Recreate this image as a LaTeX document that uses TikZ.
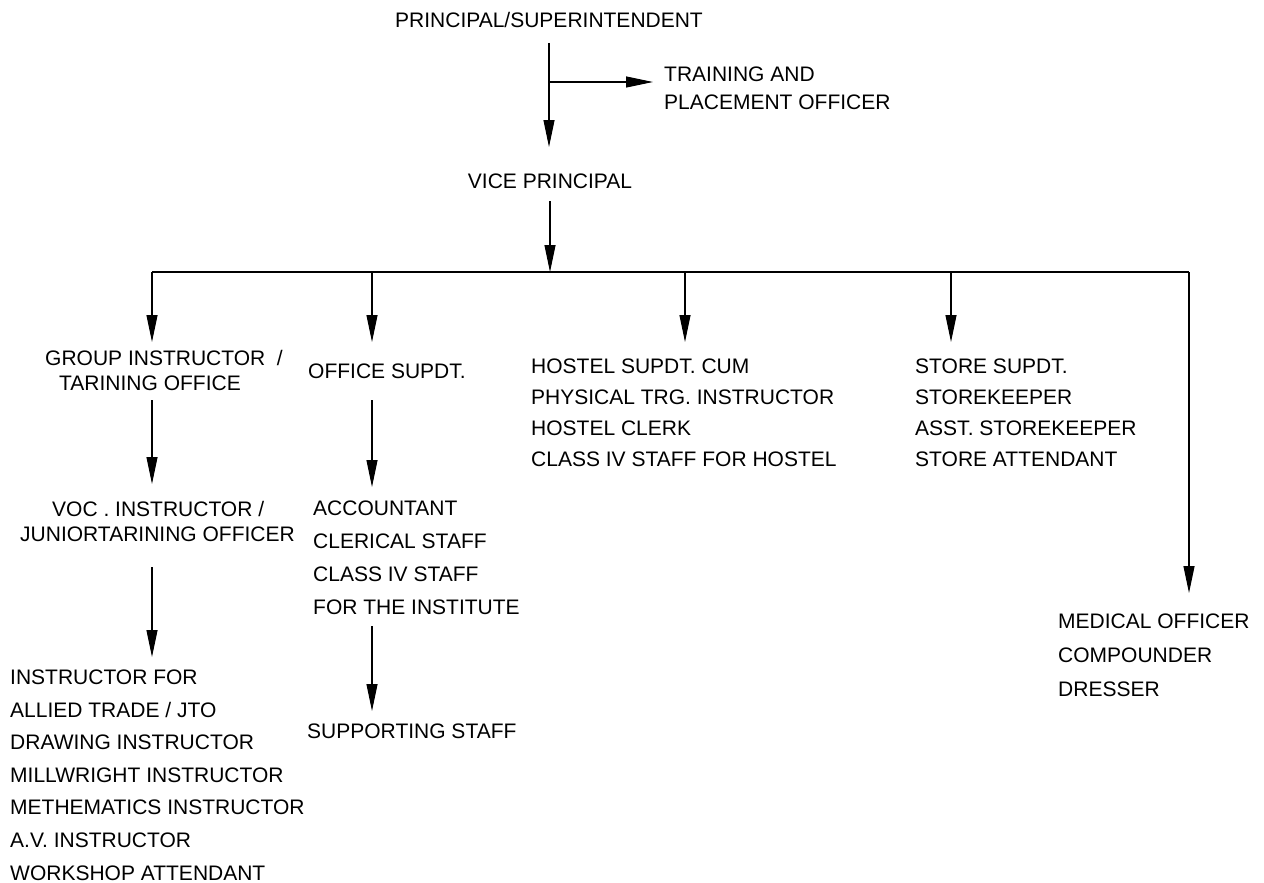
\documentclass[tikz,border=0pt]{standalone}
\usepackage{fontspec}
\setmainfont{Liberation Sans}
\usetikzlibrary{arrows.meta}
\begin{document}
\begin{tikzpicture}[x=1pt,y=-1pt,
  txt/.style={inner sep=0pt, anchor=base west, align=left, font=\fontsize{21}{33}\selectfont},
  two/.style={font=\fontsize{21}{25}\selectfont},
  conn/.style={line width=1.1pt},
  arr/.style={conn, -{Triangle[length=27pt,width=11pt]}}]
\useasboundingbox (0,0) rectangle (1264,883);
\fill[white] (0,0) rectangle (1264,883);

% texts (base anchor of a multi-line node = baseline of its last line)
\node[txt, anchor=base] (prin) at (549,28) {PRINCIPAL/SUPERINTENDENT};
\node[txt, font=\fontsize{21}{28}\selectfont] (train) at (664,109.5) {TRAINING AND\\PLACEMENT OFFICER};
\node[txt, anchor=base] (vp) at (550,188) {VICE PRINCIPAL};
\node[txt, two] (gi) at (45,390.5) {GROUP INSTRUCTOR\ \ /\\\hspace*{14pt}TARINING OFFICE};
\node[txt] (os) at (308,378) {OFFICE SUPDT.};
\node[txt, two] (voc) at (20,541.5) {\hspace*{32pt}VOC . INSTRUCTOR /\\JUNIORTARINING OFFICER};
\node[txt] (acc) at (313,614.5) {ACCOUNTANT\\CLERICAL STAFF\\CLASS IV STAFF\\FOR THE INSTITUTE};
\node[txt] (sup) at (307,738) {SUPPORTING STAFF};
\node[txt, font=\fontsize{21}{32.6}\selectfont] (ins) at (10,880) {INSTRUCTOR FOR\\ALLIED TRADE / JTO\\DRAWING INSTRUCTOR\\MILLWRIGHT INSTRUCTOR\\METHEMATICS INSTRUCTOR\\A.V. INSTRUCTOR\\WORKSHOP ATTENDANT};
\node[txt, font=\fontsize{21}{31}\selectfont] (hos) at (531,466.5) {HOSTEL SUPDT. CUM\\PHYSICAL TRG. INSTRUCTOR\\HOSTEL CLERK\\CLASS IV STAFF FOR HOSTEL};
\node[txt, font=\fontsize{21}{31}\selectfont] (sto) at (915,466.5) {STORE SUPDT.\\STOREKEEPER\\ASST. STOREKEEPER\\STORE ATTENDANT};
\node[txt, font=\fontsize{21}{34}\selectfont] (med) at (1058,696.5) {MEDICAL OFFICER\\COMPOUNDER\\DRESSER};

% connector points
\coordinate (prinOut) at (549,43);
\coordinate (vpIn) at (549,147);
\coordinate (tpJ) at (549,82);
\coordinate (tpIn) at (653,82);
\coordinate (vpOut) at (550,201);
\coordinate (busV) at (550,272);
\coordinate (busL) at (152,272);
\coordinate (busOS) at (372,272);
\coordinate (busH) at (685,272);
\coordinate (busS) at (951,272);
\coordinate (busR) at (1189,272);
\coordinate (giIn) at (152,342);
\coordinate (osIn) at (372,342);
\coordinate (hosIn) at (685,342);
\coordinate (stoIn) at (951,342);
\coordinate (medIn) at (1189,593);
\coordinate (giOut) at (152,400);
\coordinate (vocIn) at (152,484);
\coordinate (vocOut) at (152,567);
\coordinate (insIn) at (152,657);
\coordinate (osOut) at (372,400);
\coordinate (accIn) at (372,487);
\coordinate (accOut) at (372,626);
\coordinate (supIn) at (372,711);

% connectors
\draw[arr] (prinOut) -- (vpIn);
\draw[arr] (tpJ) -- (tpIn);
\draw[arr] (vpOut) -- (busV);
\draw[conn] (busL) -- (busR);
\draw[arr] (busL) -- (giIn);
\draw[arr] (busOS) -- (osIn);
\draw[arr] (busH) -- (hosIn);
\draw[arr] (busS) -- (stoIn);
\draw[arr] (busR) -- (medIn);
\draw[arr] (giOut) -- (vocIn);
\draw[arr] (vocOut) -- (insIn);
\draw[arr] (osOut) -- (accIn);
\draw[arr] (accOut) -- (supIn);
\end{tikzpicture}
\end{document}
